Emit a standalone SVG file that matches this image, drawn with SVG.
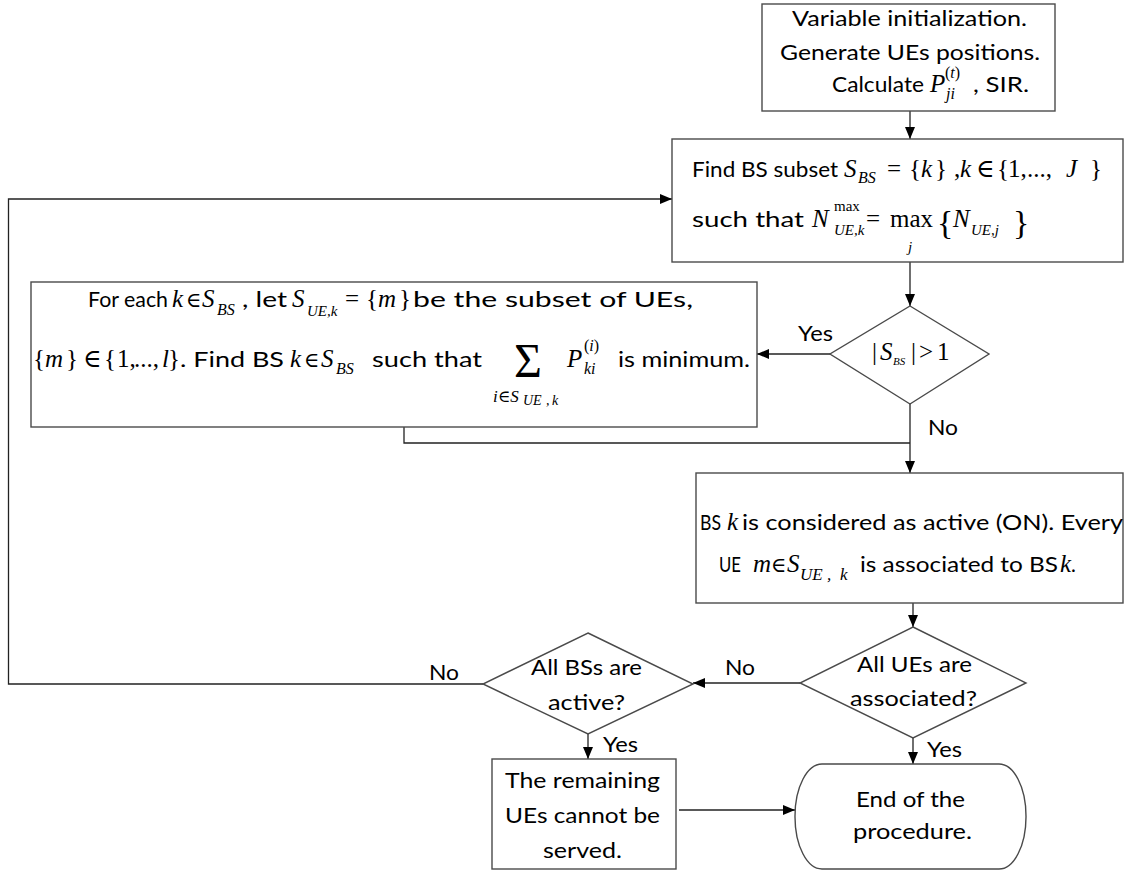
<svg xmlns="http://www.w3.org/2000/svg" width="1127" height="875" viewBox="0 0 1127 875">
<style>
.box{fill:#fff;stroke:#4a4a4a;stroke-width:1.4}
.con{fill:none;stroke:#222;stroke-width:1.3}
.t{font-family:Lato,"Open Sans",sans-serif;font-size:20.5px;font-weight:400;fill:#000}
.m{font-family:"Liberation Serif","DejaVu Serif",serif;font-size:25px;fill:#000}
.i{font-style:italic}
.e{font-size:21px}
</style>
<defs>
<marker id="ah" viewBox="0 0 12 10" markerWidth="12" markerHeight="10" refX="12" refY="5" orient="auto" markerUnits="userSpaceOnUse">
<path d="M0,0 L12,5 L0,10 z" fill="#000"/>
</marker>
</defs>
<rect width="1127" height="875" fill="#fff"/>

<g id="connectors">
<path class="con" d="M910,111 V139" marker-end="url(#ah)"/>
<path class="con" d="M910,262 V306" marker-end="url(#ah)"/>
<path class="con" d="M830,354 H757" marker-end="url(#ah)"/>
<path class="con" d="M910,404 V473" marker-end="url(#ah)"/>
<path class="con" d="M404,427 V443 H910"/>
<path class="con" d="M913,603 V627" marker-end="url(#ah)"/>
<path class="con" d="M800,683 H693" marker-end="url(#ah)"/>
<path class="con" d="M483,684 H8.5 V199 H672" marker-end="url(#ah)"/>
<path class="con" d="M588,734 V759" marker-end="url(#ah)"/>
<path class="con" d="M913,738 V764" marker-end="url(#ah)"/>
<path class="con" d="M679,810 H795" marker-end="url(#ah)"/>
<text class="t" x="798" y="341" textLength="35" lengthAdjust="spacingAndGlyphs">Yes</text>
<text class="t" x="928" y="435" textLength="30" lengthAdjust="spacingAndGlyphs">No</text>
<text class="t" x="725" y="675" textLength="30" lengthAdjust="spacingAndGlyphs">No</text>
<text class="t" x="429" y="680" textLength="30" lengthAdjust="spacingAndGlyphs">No</text>
<text class="t" x="603" y="752" textLength="35" lengthAdjust="spacingAndGlyphs">Yes</text>
<text class="t" x="927" y="757" textLength="35" lengthAdjust="spacingAndGlyphs">Yes</text>
</g>

<g id="init">
<rect class="box" x="762" y="4" width="293" height="107"/>
<text class="t" x="792" y="26" textLength="235" lengthAdjust="spacingAndGlyphs">Variable initialization.</text>
<text class="t" x="780" y="60" textLength="260" lengthAdjust="spacingAndGlyphs">Generate UEs positions.</text>
<text class="t" x="832" y="92" textLength="92" lengthAdjust="spacingAndGlyphs">Calculate</text>
<text class="m" y="92"><tspan x="930" font-style="italic">P</tspan><tspan x="945" y="78" font-size="16">(</tspan><tspan font-size="16" font-style="italic">t</tspan><tspan font-size="16">)</tspan><tspan x="946" y="99" font-size="16" font-style="italic">ji</tspan></text>
<text class="t" x="973" y="92" textLength="56" lengthAdjust="spacingAndGlyphs">, SIR.</text>
</g>

<g id="find">
<rect class="box" x="672" y="139" width="451" height="123"/>
<text class="t" x="692" y="177" textLength="146" lengthAdjust="spacingAndGlyphs">Find BS subset</text>
<text class="m" y="177"><tspan x="844" font-style="italic">S</tspan><tspan x="858" y="183" font-size="16" font-style="italic">BS</tspan><tspan x="887" y="177">=</tspan><tspan x="909">{</tspan><tspan x="921" font-style="italic">k</tspan><tspan x="935">}</tspan><tspan x="954">,</tspan><tspan x="960" font-style="italic">k</tspan><tspan x="976">∈</tspan><tspan x="997">{</tspan><tspan x="1008">1,</tspan><tspan x="1027">...,</tspan><tspan x="1066" font-style="italic">J</tspan><tspan x="1090">}</tspan></text>
<text class="t" x="692" y="227" textLength="112" lengthAdjust="spacingAndGlyphs">such that</text>
<text class="m" y="227"><tspan x="812" font-style="italic">N</tspan><tspan x="834" y="211" font-size="15">max</tspan><tspan x="834" y="235" font-size="15" font-style="italic">UE,k</tspan><tspan x="866" y="227">=</tspan><tspan x="890">max</tspan><tspan x="908" y="252" font-size="15" font-style="italic">j</tspan><tspan x="937" y="234" font-size="34">{</tspan><tspan x="953" y="227" font-style="italic">N</tspan><tspan x="971" y="235" font-size="15" font-style="italic">UE,j</tspan><tspan x="1013" y="234" font-size="34">}</tspan></text>
</g>

<g id="decision1">
<path class="box" d="M910,306 L989,354 L910,404 L830,354 Z"/>
<text class="m" y="360"><tspan x="872">|</tspan><tspan x="880" font-style="italic">S</tspan><tspan x="893" y="365" font-size="11" font-style="italic">BS</tspan><tspan x="911" y="360">|</tspan><tspan x="919">&gt;</tspan><tspan x="937">1</tspan></text>
</g>

<g id="select">
<rect class="box" x="31" y="282" width="726" height="145"/>
<text class="t" x="88" y="307" textLength="80" lengthAdjust="spacingAndGlyphs">For each</text>
<text class="m" y="307"><tspan x="172" font-style="italic">k</tspan><tspan x="186" class="e">∈</tspan><tspan x="202" font-style="italic">S</tspan><tspan x="217" y="315" font-size="16" font-style="italic">BS</tspan></text>
<text class="t" x="242" y="307" textLength="45" lengthAdjust="spacingAndGlyphs">, let</text>
<text class="m" y="307"><tspan x="292" font-style="italic">S</tspan><tspan x="307" y="316" font-size="15" font-style="italic">UE,k</tspan><tspan x="345" y="307">=</tspan><tspan x="366">{</tspan><tspan x="378" font-style="italic">m</tspan><tspan x="399">}</tspan></text>
<text class="t" x="413" y="307" textLength="280" lengthAdjust="spacingAndGlyphs">be the subset of UEs,</text>
<text class="m" y="367"><tspan x="33">{</tspan><tspan x="45" font-style="italic">m</tspan><tspan x="66">}</tspan><tspan x="83">∈</tspan><tspan x="104">{</tspan><tspan x="117">1,</tspan><tspan x="134">...,</tspan><tspan x="162" font-style="italic">l</tspan><tspan x="168">}</tspan></text>
<text class="t" x="180" y="367" textLength="104" lengthAdjust="spacingAndGlyphs">. Find BS</text>
<text class="m" y="367"><tspan x="290" font-style="italic">k</tspan><tspan x="304" class="e">∈</tspan><tspan x="321" font-style="italic">S</tspan><tspan x="336" y="374" font-size="16" font-style="italic">BS</tspan></text>
<text class="t" x="372" y="367" textLength="110" lengthAdjust="spacingAndGlyphs">such that</text>
<text class="m" y="377"><tspan x="514" font-size="48">Σ</tspan><tspan x="493" y="402" font-size="17" font-style="italic">i∈S</tspan><tspan x="523" y="405" font-size="14" font-style="italic">UE</tspan><tspan x="546" font-size="14" font-style="italic">,</tspan><tspan x="552" font-size="14" font-style="italic">k</tspan><tspan x="567" y="367" font-style="italic">P</tspan><tspan x="584" y="351" font-size="16">(</tspan><tspan font-size="16" font-style="italic">i</tspan><tspan font-size="16">)</tspan><tspan x="584" y="374" font-size="16" font-style="italic">ki</tspan></text>
<text class="t" x="618" y="367" textLength="132" lengthAdjust="spacingAndGlyphs">is minimum.</text>
</g>

<g id="activate">
<rect class="box" x="696" y="473" width="427" height="130"/>
<text class="t" x="700" y="530" textLength="21" lengthAdjust="spacingAndGlyphs">BS</text>
<text class="m i" x="727" y="530">k</text>
<text class="t" x="742" y="530" textLength="381" lengthAdjust="spacingAndGlyphs">is considered as active (ON). Every</text>
<text class="t" x="719" y="572" textLength="22" lengthAdjust="spacingAndGlyphs">UE</text>
<text class="m" y="572"><tspan x="753" font-style="italic">m</tspan><tspan x="771" class="e">∈</tspan><tspan x="787" font-style="italic">S</tspan><tspan x="800" y="580" font-size="17" font-style="italic">UE</tspan><tspan x="827" font-size="17" font-style="italic">,</tspan><tspan x="840" font-size="17" font-style="italic">k</tspan></text>
<text class="t" x="860" y="572" textLength="198" lengthAdjust="spacingAndGlyphs">is associated to BS</text>
<text class="m i" x="1060" y="572">k</text>
<text class="t" x="1071" y="572">.</text>
</g>

<g id="decision2">
<path class="box" d="M913,627 L1026,683 L913,738 L800,683 Z"/>
<text class="t" x="857" y="672" textLength="115" lengthAdjust="spacingAndGlyphs">All UEs are</text>
<text class="t" x="850" y="706" textLength="127" lengthAdjust="spacingAndGlyphs">associated?</text>
</g>

<g id="decision3">
<path class="box" d="M588,633 L693,684 L588,734 L483,684 Z"/>
<text class="t" x="531" y="675" textLength="111" lengthAdjust="spacingAndGlyphs">All BSs are</text>
<text class="t" x="548" y="710" textLength="77" lengthAdjust="spacingAndGlyphs">active?</text>
</g>

<g id="unserved">
<rect class="box" x="492" y="759" width="184" height="110"/>
<text class="t" x="505" y="788" textLength="155" lengthAdjust="spacingAndGlyphs">The remaining</text>
<text class="t" x="505" y="823" textLength="155" lengthAdjust="spacingAndGlyphs">UEs cannot be</text>
<text class="t" x="543" y="858" textLength="79" lengthAdjust="spacingAndGlyphs">served.</text>
</g>

<g id="end">
<rect class="box" x="795" y="764" width="231" height="105" rx="27" ry="52"/>
<text class="t" x="856" y="807" textLength="109" lengthAdjust="spacingAndGlyphs">End of the</text>
<text class="t" x="853" y="839" textLength="119" lengthAdjust="spacingAndGlyphs">procedure.</text>
</g>
</svg>
